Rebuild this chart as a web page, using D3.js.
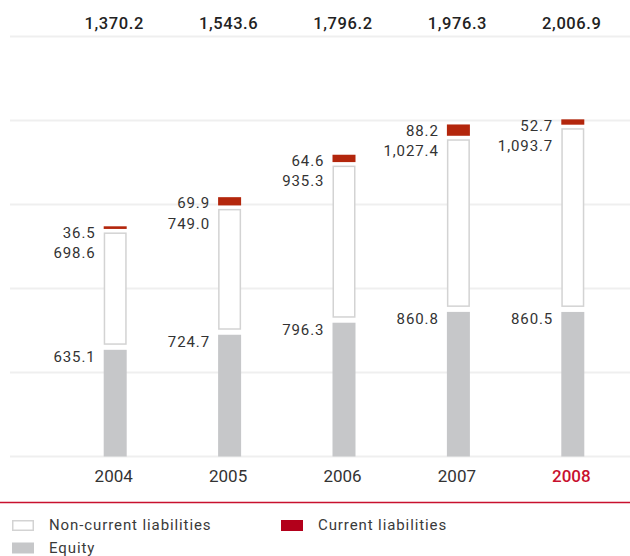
<!DOCTYPE html>
<html>
<head>
<meta charset="utf-8">
<script src="https://cdn.jsdelivr.net/npm/d3@7"></script>
<style>
  html, body { margin: 0; padding: 0; background: #fff; }
  svg { display: block; font-family: Roboto, "Noto Sans", sans-serif; }
</style>
</head>
<body>
<svg id="chart" width="630" height="556"></svg>
<script>
// Balance sheet structure, EUR million
const years = ["2004", "2005", "2006", "2007", "2008"];
const equity = [635.1, 724.7, 796.3, 860.8, 860.5];
const nonCurrent = [698.6, 749.0, 935.3, 1027.4, 1093.7];
const current = [36.5, 69.9, 64.6, 88.2, 52.7];
const totals = [1370.2, 1543.6, 1796.2, 1976.3, 2006.9];
const gridValues = [0, 500, 1000, 1500, 2000, 2500];
const highlightYear = "2008";

const C = {
  equity: "#c6c7c9",
  nonCurrentStroke: "#d3d3d3",
  current: "#b3260c",
  currentLegend: "#b3001b",
  accent: "#c8102e",
  grid: "#efefef",
  text: "#333333"
};

const svg = d3.select("#chart");
const fmt = d3.format(",.1f");

const rows = years.map((y, i) => ({
  year: y, equity: equity[i], nonCurrent: nonCurrent[i], current: current[i], total: totals[i]
}));

const x = d3.scaleBand().domain(years).range([58, 630]).padding(0);
const y = d3.scaleLinear().domain([0, 2500]).range([456.5, 36.5]);
const barW = 23;
const cx = d => x(d) + x.bandwidth() / 2;

// horizontal grid
svg.append("g").selectAll("line").data(gridValues).join("line")
  .attr("x1", 10).attr("x2", 630)
  .attr("y1", d => y(d)).attr("y2", d => y(d))
  .attr("stroke", C.grid).attr("stroke-width", 2);

const stack = d3.stack().keys(["equity", "nonCurrent", "current"])(rows);
const [sEq, sNc, sCur] = stack;

// equity
svg.append("g").selectAll("rect").data(sEq).join("rect")
  .attr("x", d => cx(d.data.year) - barW / 2)
  .attr("width", barW)
  .attr("y", d => y(d[1]))
  .attr("height", d => y(d[0]) - y(d[1]))
  .attr("fill", C.equity);

// non-current liabilities (outlined)
const sw = 1.5;
svg.append("g").selectAll("rect").data(sNc).join("rect")
  .attr("x", d => cx(d.data.year) - barW / 2 + sw / 2)
  .attr("width", barW - sw)
  .attr("y", d => y(d[1]) + sw / 2)
  .attr("height", d => y(d[0]) - y(d[1]) - 5 - sw)
  .attr("fill", "#fff")
  .attr("stroke", C.nonCurrentStroke)
  .attr("stroke-width", sw);

// current liabilities
svg.append("g").selectAll("rect").data(sCur).join("rect")
  .attr("x", d => cx(d.data.year) - barW / 2)
  .attr("width", barW)
  .attr("y", d => y(d[1]))
  .attr("height", d => Math.max(1, y(d[0]) - y(d[1]) - 3.5))
  .attr("fill", C.current);

// value labels
const ls = 0.9;
const lab = svg.append("g").attr("font-size", 15).attr("fill", C.text)
  .attr("text-anchor", "end").attr("letter-spacing", ls);
rows.forEach(d => {
  const lx = cx(d.year) - barW / 2 - 9 + ls;
  const top = y(d.total);
  lab.append("text").attr("x", lx).attr("y", top + 11.3).text(fmt(d.current));
  lab.append("text").attr("x", lx).attr("y", top + 31.5).text(fmt(d.nonCurrent));
  lab.append("text").attr("x", lx).attr("y", y(d.equity) + 12).text(fmt(d.equity));
});

// totals
svg.append("g").selectAll("text").data(rows).join("text")
  .attr("x", d => cx(d.year) - 1)
  .attr("y", 29)
  .attr("text-anchor", "middle")
  .attr("font-size", 16.5)
  .attr("font-weight", 500)
  .attr("letter-spacing", 0.6)
  .attr("fill", "#222")
  .text(d => fmt(d.total));

// x axis labels
const xAxis = d3.axisBottom(x).tickSize(0).tickPadding(0);
const gx = svg.append("g").attr("transform", "translate(0,470)").call(xAxis);
gx.select(".domain").remove();
gx.selectAll("text")
  .attr("font-size", 17)
  .attr("font-family", "Roboto, sans-serif")
  .attr("dy", "0.71em")
  .attr("y", 0)
  .attr("x", -1.5)
  .attr("fill", d => d === highlightYear ? C.accent : C.text)
  .attr("font-weight", d => d === highlightYear ? 500 : 400);

// separator
svg.append("line").attr("x1", 0).attr("x2", 630).attr("y1", 502.5).attr("y2", 502.5)
  .attr("stroke", C.accent).attr("stroke-width", 1.5);

// legend
const legendItems = [
  { label: "Non-current liabilities", x: 12, y: 520, fill: "#fff", stroke: C.nonCurrentStroke },
  { label: "Current liabilities", x: 281, y: 520, fill: C.currentLegend, stroke: null },
  { label: "Equity", x: 12, y: 542.5, fill: C.equity, stroke: null }
];
const lg = svg.append("g").selectAll("g").data(legendItems).join("g")
  .attr("transform", d => `translate(${d.x},${d.y})`);
lg.append("rect")
  .attr("x", d => d.stroke ? 0.75 : 0).attr("y", d => d.stroke ? 0.75 : 0)
  .attr("width", d => d.stroke ? 20.5 : 22).attr("height", d => d.stroke ? 9.5 : 11)
  .attr("fill", d => d.fill)
  .attr("stroke", d => d.stroke)
  .attr("stroke-width", d => d.stroke ? 1.5 : 0);
lg.append("text").attr("x", 37).attr("y", 10.3)
  .attr("font-size", 15).attr("letter-spacing", 0.9).attr("fill", "#3a3a3a")
  .text(d => d.label);
</script>
</body>
</html>
